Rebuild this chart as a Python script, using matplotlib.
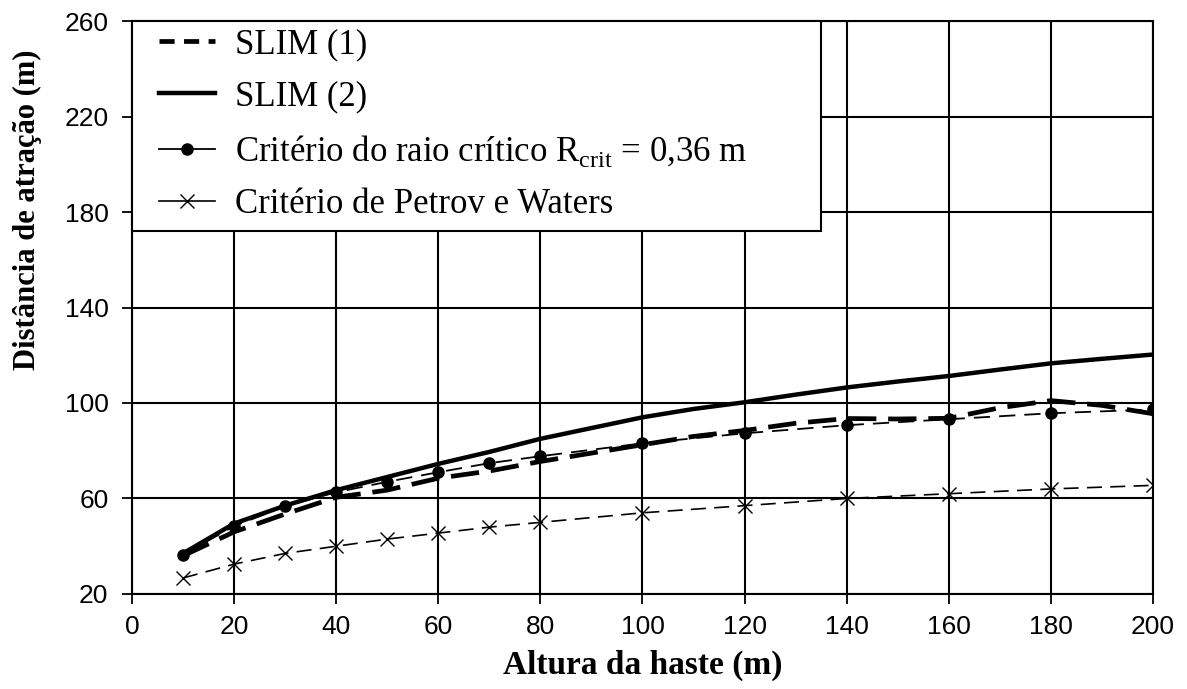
import matplotlib
matplotlib.use("Agg")
import matplotlib.pyplot as plt
from matplotlib.lines import Line2D
from matplotlib.patches import Rectangle

# SLIM model curves (attraction distance vs rod height)
h_slim = [10, 20, 30, 40, 50, 60, 70, 80, 90, 100,
          110, 120, 130, 140, 150, 160, 170, 180, 190, 200]
slim1 = [36, 46, 53.5, 60.5, 63.5, 68.5, 71.5, 75.5, 79, 82.5,
         86, 88.5, 91.5, 93.5, 93.3, 93.6, 98, 101, 99, 95.5]
slim2 = [37, 49.5, 57, 63.5, 69, 74.5, 79.5, 85, 89.5, 94,
         97.5, 100.3, 103.5, 106.5, 109, 111.3, 114, 116.6, 118.5, 120.3]

# critical radius and Petrov & Waters criteria
h_crit = [10, 20, 30, 40, 50, 60, 70, 80, 100, 120, 140, 160, 180, 200]
rcrit = [36.5, 48.4, 56.8, 62.6, 67, 71, 74.8, 77.7, 83.1, 87.3, 90.7, 93.2, 95.7, 97.3]
petrov = [26.7, 32.5, 37, 40, 43, 45.5, 48, 50, 54, 57, 60, 62, 64, 65.5]

labels = ["SLIM (1)", "SLIM (2)",
          r"Critério do raio crítico R$_{\mathrm{crit}}$ = 0,36 m",
          "Critério de Petrov e Waters"]

plt.rcParams["mathtext.fontset"] = "custom"
plt.rcParams["mathtext.rm"] = "Liberation Serif"

fig = plt.figure(figsize=(11.87, 6.89), dpi=100)
ax = fig.add_axes([0.1112, 0.1379, 0.8601, 0.8316])

ax.plot(h_slim, slim2, color="black", lw=3.2, solid_capstyle="round", zorder=4)
ax.plot(h_slim, slim1, color="black", lw=3.4, dashes=(6, 2.5), zorder=4)
ax.plot(h_crit, rcrit, color="black", lw=1.3, dashes=(9, 5),
        marker="o", ms=8, zorder=5)
ax.plot(h_crit, petrov, color="black", lw=1.2, dashes=(9, 5),
        marker="x", ms=10, mew=1.0, zorder=5)

ax.set_xlim(0, 200)
ax.set_ylim(20, 260)
ax.set_xticks(range(0, 201, 20))
ax.set_yticks(range(20, 261, 40))
ax.grid(True, color="black", lw=1.5)
ax.set_axisbelow(True)
for s in ax.spines.values():
    s.set_linewidth(1.5)
ax.tick_params(direction="out", length=7, width=1.3)
ax.tick_params(axis="x", pad=8)
ax.tick_params(axis="y", pad=10)
for t in ax.get_xticklabels() + ax.get_yticklabels():
    t.set_fontfamily("Liberation Sans")
    t.set_fontsize(19)

ax.set_xlabel("Altura da haste (m)", family="Liberation Serif",
              weight="bold", fontsize=24, labelpad=8)
ax.set_ylabel("Distância de atração (m)", family="Liberation Serif",
              weight="bold", fontsize=22)
ax.yaxis.set_label_coords(-0.088, 0.67)

# white box behind the legend, covering the upper-left grid cells
ax.add_patch(Rectangle((0, 0.634), 0.675, 0.366, transform=ax.transAxes,
                       facecolor="white", edgecolor="black", lw=1.5,
                       zorder=9, clip_on=False))

handles = [
    Line2D([], [], color="black", lw=3.4, dashes=(3.2, 2)),
    Line2D([], [], color="black", lw=3.2),
    Line2D([], [], color="black", lw=1.3, marker="o", ms=8),
    Line2D([], [], color="black", lw=1.2, marker="x", ms=10, mew=1.0),
]
leg = ax.legend(handles, labels, loc="upper left",
                bbox_to_anchor=(0.026, 0.987), borderaxespad=0,
                prop={"family": "Liberation Serif", "size": 25},
                frameon=False, handlelength=1.64, handletextpad=0.55,
                borderpad=0, labelspacing=0.55)
leg.set_zorder(10)

fig.savefig("out.png", dpi=100, facecolor="white")
